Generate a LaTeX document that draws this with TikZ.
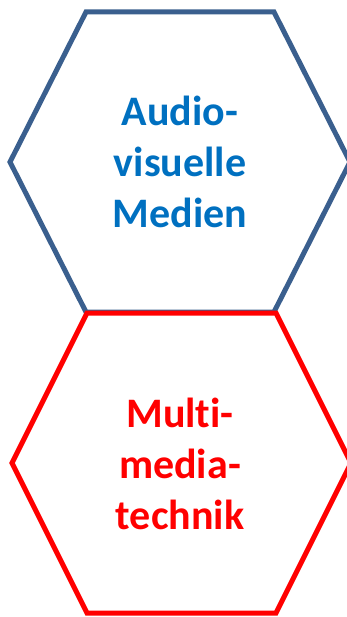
\documentclass[tikz,border=0pt]{standalone}
\usepackage{fontspec}
\setmainfont[Ligatures=NoCommon]{Carlito}
\definecolor{hexblue}{HTML}{3A5F8E}
\definecolor{txtblue}{HTML}{0070C0}
\definecolor{hexred}{HTML}{FF0000}
\begin{document}
\begin{tikzpicture}[x=1pt,y=-1pt,
  hexline/.style={line width=5pt,line join=miter},
  hextext/.style={align=center,font=\fontsize{42}{51}\selectfont\bfseries,inner sep=0pt}]
\useasboundingbox (0,0) rectangle (347,617);
\draw[hexline,draw=hexblue] (86,12) -- (274,12) -- (350,162) -- (274,312) -- (86,312) -- (10,162) -- cycle;
\draw[hexline,draw=hexred] (87,313) -- (276,313) -- (351,463) -- (276,613) -- (87,613) -- (12,463) -- cycle;
\node[hextext,text=txtblue] (av) at (180,162) {Audio-\\visuelle\\Medien};
\node[hextext,text=hexred] (mm) at (180,464) {Mult\kern0pt i-\\media-\\technik};
\end{tikzpicture}
\end{document}
